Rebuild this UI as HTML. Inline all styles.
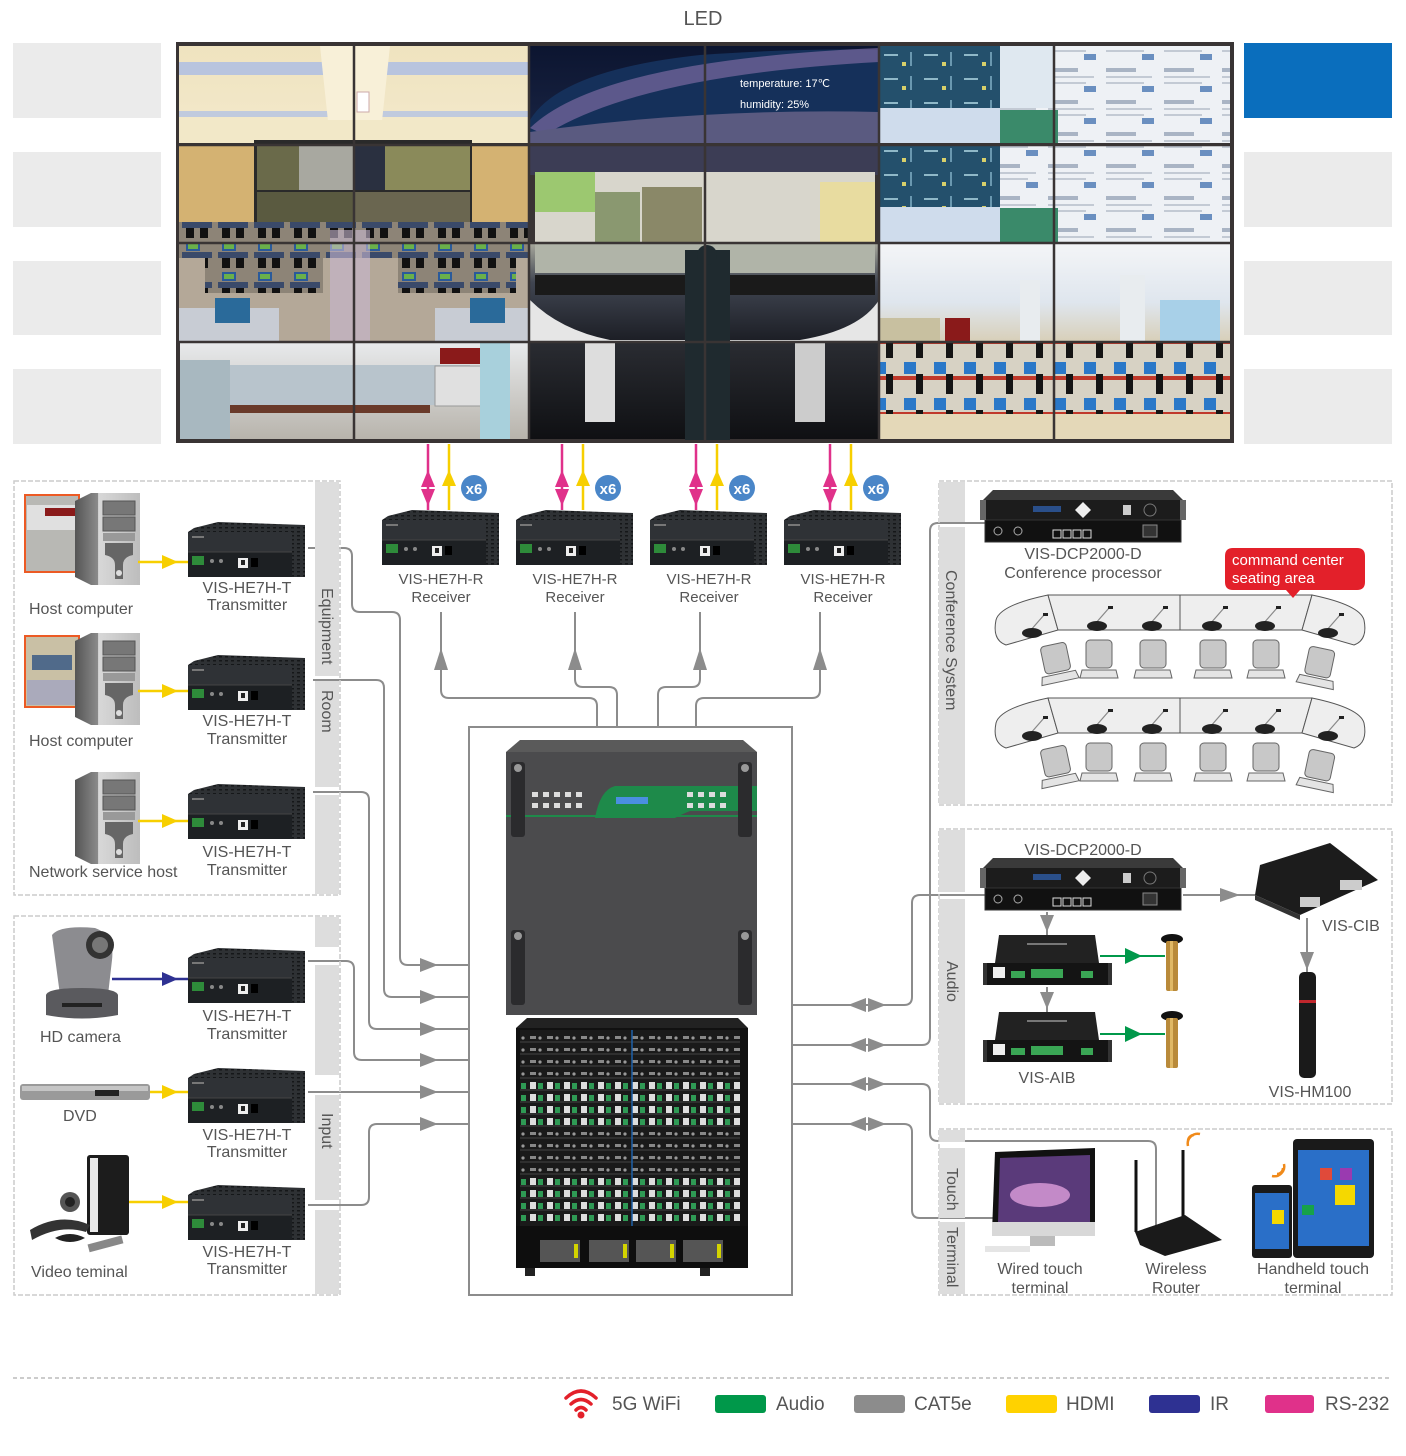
<!DOCTYPE html>
<html><head><meta charset="utf-8"><style>
html,body{margin:0;padding:0;background:#fff}
svg{display:block}
text{font-family:"Liberation Sans",Arial,sans-serif;fill:#555}
</style></head><body>
<svg width="1406" height="1456" viewBox="0 0 1406 1456" xmlns="http://www.w3.org/2000/svg">
<defs>
<linearGradient id="gL1" x1="0" y1="0" x2="0" y2="1"><stop offset="0" stop-color="#efe3bf"/><stop offset="1" stop-color="#f3e9cc"/></linearGradient>
<linearGradient id="gL3" x1="0" y1="0" x2="0" y2="1"><stop offset="0" stop-color="#e8eaec"/><stop offset="1" stop-color="#b8b4ac"/></linearGradient>
<linearGradient id="gM1" x1="0" y1="0" x2="0" y2="1"><stop offset="0" stop-color="#0c1530"/><stop offset="1" stop-color="#1a2545"/></linearGradient>
<linearGradient id="gM3" x1="0" y1="0" x2="0" y2="1"><stop offset="0" stop-color="#a7a89c"/><stop offset="0.4" stop-color="#404551"/><stop offset="1" stop-color="#1c1e25"/></linearGradient>
<linearGradient id="gM4" x1="0" y1="0" x2="0" y2="1"><stop offset="0" stop-color="#2a2c32"/><stop offset="1" stop-color="#0f1013"/></linearGradient>
<linearGradient id="gR3" x1="0" y1="0" x2="0" y2="1"><stop offset="0" stop-color="#f4f5f7"/><stop offset="0.6" stop-color="#dfe6ee"/><stop offset="1" stop-color="#d8cfb8"/></linearGradient>
<linearGradient id="tower" x1="0" y1="0" x2="1" y2="0"><stop offset="0" stop-color="#555"/><stop offset="0.35" stop-color="#8a8a8a"/><stop offset="0.36" stop-color="#d8d8d8"/><stop offset="1" stop-color="#bdbdbd"/></linearGradient>
<pattern id="vent" width="6" height="4" patternUnits="userSpaceOnUse"><rect width="6" height="4" fill="#2e3134"/><rect x="1" y="1" width="3" height="1.5" fill="#151719"/></pattern>
<pattern id="rj" x="528" y="0" width="17" height="12" patternUnits="userSpaceOnUse"><rect width="17" height="12" fill="#1a1a1a"/><rect x="2" y="2" width="6" height="7" fill="#ddd"/><rect x="10" y="3" width="5" height="6" fill="#2f9a55"/></pattern>
<pattern id="hd" x="528" y="0" width="17" height="12" patternUnits="userSpaceOnUse"><rect width="17" height="12" fill="#1a1a1a"/><rect x="2" y="4" width="6" height="3" fill="#888"/><circle cx="12" cy="6" r="1.6" fill="#999"/></pattern>
<pattern id="scr" width="58" height="32" patternUnits="userSpaceOnUse"><rect width="58" height="32" fill="#eef1f5"/><rect x="4" y="4" width="30" height="4" fill="#a9b4c4"/><rect x="4" y="12" width="46" height="2" fill="#c3cad4"/><rect x="4" y="18" width="38" height="2" fill="#c3cad4"/><rect x="40" y="22" width="12" height="6" fill="#6a8fc0"/></pattern>
<pattern id="teal" width="40" height="24" patternUnits="userSpaceOnUse"><rect width="40" height="24" fill="#24506c"/><rect x="4" y="6" width="14" height="2" fill="#8fb8c8"/><rect x="22" y="14" width="4" height="4" fill="#d8d06a"/><rect x="30" y="4" width="2" height="14" fill="#6a98b0"/></pattern>
<pattern id="desk" width="36" height="30" patternUnits="userSpaceOnUse"><rect width="36" height="30" fill="#8d8477"/><rect x="6" y="2" width="14" height="9" fill="#2a5a9a"/><rect x="8" y="4" width="10" height="5" fill="#6ab04a"/><rect x="2" y="12" width="30" height="6" fill="#3a4a6a"/><rect x="6" y="18" width="8" height="10" fill="#111"/><rect x="20" y="18" width="8" height="10" fill="#111"/></pattern>
<pattern id="deskR" width="30" height="36" patternUnits="userSpaceOnUse"><rect width="30" height="36" fill="#d7d2c4"/><rect x="4" y="2" width="12" height="12" fill="#2a78c8"/><rect x="0" y="16" width="30" height="4" fill="#c0392b"/><rect x="16" y="14" width="7" height="20" fill="#151515"/></pattern>
<g id="tx">
  <polygon points="6,6 30,0 117,3 117,30 0,30 0,10" fill="url(#vent)"/>
  <rect x="0" y="10" width="117" height="20" fill="#2f3236"/>
  <rect x="0" y="30" width="117" height="25" fill="#1d2023"/>
  <line x1="0" y1="30" x2="117" y2="30" stroke="#444" stroke-width="1"/>
  <rect x="104" y="6" width="13" height="49" fill="url(#vent)"/>
  <rect x="4" y="34" width="12" height="9" fill="#2e8b3a"/>
  <rect x="50" y="36" width="10" height="10" fill="#eee"/>
  <rect x="53" y="38" width="4" height="5" fill="#222"/>
  <rect x="63" y="36" width="7" height="9" fill="#000"/>
  <circle cx="24" cy="39" r="2" fill="#888"/><circle cx="33" cy="39" r="2" fill="#888"/>
  <rect x="4" y="14" width="12" height="2" fill="#777"/>
</g>
<g id="tower1">
  <polygon points="0,8 16,0 65,0 65,92 16,92 0,84" fill="url(#tower)"/>
  <rect x="28" y="8" width="32" height="14" fill="#777" stroke="#555"/>
  <rect x="28" y="24" width="32" height="14" fill="#777" stroke="#555"/>
  <rect x="28" y="40" width="32" height="8" fill="#999"/>
  <path d="M30 50 H58 V62 Q48 64 48 72 V86 H40 V72 Q40 64 30 62 Z" fill="#666"/>
  <circle cx="44" cy="80" r="3" fill="#ddd"/>
</g>
<g id="dcp">
  <polygon points="10,0 190,0 200,10 0,10" fill="#3a3a3a"/>
  <rect x="0" y="10" width="200" height="20" fill="#1c1c1c"/>
  <rect x="2" y="30" width="196" height="22" fill="#111" stroke="#333"/>
  <rect x="50" y="16" width="28" height="6" fill="#2a4f8a"/>
  <polygon points="100,12 108,20 100,28 92,20" fill="#eee"/>
  <circle cx="167" cy="20" r="6" fill="none" stroke="#777"/>
  <rect x="140" y="15" width="8" height="10" fill="#ccc"/>
  <rect x="70" y="40" width="8" height="8" fill="none" stroke="#ddd"/><rect x="80" y="40" width="8" height="8" fill="none" stroke="#ddd"/><rect x="90" y="40" width="8" height="8" fill="none" stroke="#ddd"/><rect x="100" y="40" width="8" height="8" fill="none" stroke="#ddd"/>
  <circle cx="15" cy="41" r="4" fill="none" stroke="#aaa"/><circle cx="35" cy="41" r="4" fill="none" stroke="#aaa"/>
  <rect x="160" y="35" width="14" height="12" fill="#333" stroke="#888"/>
  <rect x="-3" y="10" width="6" height="20" fill="#666"/><rect x="197" y="10" width="6" height="20" fill="#666"/>
</g>
<g id="aib">
  <polygon points="12,0 108,0 112,28 8,28" fill="#222"/>
  <rect x="0" y="28" width="121" height="22" fill="#141414"/>
  <polygon points="-4,28 0,28 0,50 -4,50" fill="#333"/><polygon points="121,28 125,28 125,50 121,50" fill="#333"/>
  <rect x="6" y="32" width="12" height="11" fill="#eee"/>
  <rect x="24" y="36" width="14" height="7" fill="#3aa655"/><rect x="44" y="34" width="32" height="9" fill="#3aa655"/><rect x="94" y="36" width="12" height="7" fill="#3aa655"/>
  <rect x="40" y="8" width="40" height="2" fill="#777"/>
</g>
<g id="mic">
  <ellipse cx="8" cy="4" rx="11" ry="5" fill="#111"/>
  <rect x="2" y="6" width="12" height="50" rx="2" fill="#b98a3a"/>
  <rect x="6" y="6" width="3" height="50" fill="#e0b865"/>
</g>
<g id="chair">
  <rect x="4" y="0" width="26" height="28" rx="4" fill="#c8c8c8" stroke="#666"/>
  <path d="M0 30 H34 L36 38 H-2 Z" fill="#e4e4e4" stroke="#666"/>
</g>
<g id="seat">
  <line x1="8" y1="24" x2="22" y2="8" stroke="#888" stroke-width="1.2"/>
  <rect x="21" y="6" width="5" height="3" fill="#222"/>
  <ellipse cx="10" cy="26" rx="10" ry="5" fill="#222"/>
</g>
</defs>

<text x="703" y="25" font-size="20" text-anchor="middle" fill="#666">LED</text>

<g fill="#ebebeb">
<rect x="13" y="43" width="148" height="75"/><rect x="13" y="152" width="148" height="75"/><rect x="13" y="261" width="148" height="74"/><rect x="13" y="369" width="148" height="75"/>
<rect x="1244" y="152" width="148" height="75"/><rect x="1244" y="261" width="148" height="74"/><rect x="1244" y="369" width="148" height="75"/>
</g>
<rect x="1244" y="43" width="148" height="75" fill="#0a6ebd"/>

<!-- video wall -->
<rect x="176" y="42" width="1058" height="401" fill="#393434"/>
<!-- left panel -->
<rect x="179" y="46" width="350" height="97" fill="url(#gL1)"/>
<rect x="179" y="62" width="350" height="13" fill="#b8c4de"/>
<rect x="179" y="111" width="350" height="6" fill="#c0cade"/>
<polygon points="320,46 390,46 380,140 330,140" fill="#f8f0d8"/>
<rect x="357" y="92" width="12" height="20" fill="#fff" stroke="#caa"/>
<rect x="179" y="120" width="350" height="23" fill="#f2e8c8"/>
<rect x="179" y="145" width="350" height="96" fill="#d4b272"/>
<rect x="254" y="140" width="218" height="84" fill="#2a2a2a"/>
<rect x="257" y="145" width="42" height="45" fill="#6a6a4a"/><rect x="299" y="145" width="54" height="45" fill="#a8a8a0"/><rect x="355" y="145" width="30" height="45" fill="#2a3040"/><rect x="385" y="145" width="85" height="45" fill="#8a8a5a"/>
<rect x="257" y="192" width="96" height="30" fill="#5a5a40"/><rect x="355" y="192" width="115" height="30" fill="#6a6650"/>
<rect x="179" y="224" width="350" height="117" fill="#b4a898"/>
<rect x="179" y="222" width="350" height="36" fill="url(#desk)"/>
<rect x="205" y="243" width="118" height="50" fill="url(#desk)"/>
<rect x="398" y="243" width="118" height="50" fill="url(#desk)"/>
<rect x="330" y="230" width="40" height="111" fill="#c8b8d0" opacity="0.6"/>
<rect x="179" y="308" width="100" height="33" fill="#c8ccd4"/><rect x="435" y="308" width="94" height="33" fill="#c8ccd4"/>
<rect x="215" y="298" width="35" height="25" fill="#2a6a9a"/><rect x="470" y="298" width="35" height="25" fill="#2a6a9a"/>
<rect x="180" y="342" width="349" height="97" fill="url(#gL3)"/>
<rect x="230" y="365" width="240" height="40" fill="#b8c4cc"/>
<rect x="180" y="360" width="50" height="79" fill="#a8b8c0"/>
<rect x="440" y="348" width="55" height="16" fill="#8a1a1a"/>
<rect x="435" y="366" width="60" height="40" fill="#e0e0e0" stroke="#999"/>
<rect x="480" y="342" width="30" height="97" fill="#a8d0dc"/>
<rect x="230" y="405" width="200" height="8" fill="#6a3a2a"/>
<!-- middle panel -->
<rect x="530" y="46" width="349" height="97" fill="url(#gM1)"/>
<path d="M530 120 Q560 70 700 55 Q800 48 879 50 V143 H530 Z" fill="#15305a"/>
<path d="M530 128 Q600 60 879 48 V62 Q640 75 545 135 Z" fill="#7a6aa0" opacity="0.7"/>
<path d="M530 132 Q700 108 879 112 V143 H530 Z" fill="#5a5a80"/>
<rect x="530" y="145" width="349" height="30" fill="#3c3d55"/>
<rect x="535" y="172" width="340" height="70" fill="#d8d6cc"/>
<rect x="535" y="172" width="60" height="40" fill="#9cc870"/>
<rect x="595" y="192" width="45" height="50" fill="#8a9870"/>
<rect x="642" y="187" width="60" height="55" fill="#8a8868"/>
<rect x="820" y="182" width="55" height="60" fill="#e8dca0"/>
<rect x="530" y="243" width="349" height="98" fill="url(#gM3)"/>
<rect x="535" y="243" width="340" height="30" fill="#b0b4a8"/>
<rect x="535" y="275" width="340" height="20" fill="#1a1a1a"/>
<path d="M530 300 Q560 330 610 340 H800 Q860 330 879 300 V341 H530Z" fill="#e6e6e6"/>
<rect x="530" y="342" width="349" height="97" fill="url(#gM4)"/>
<rect x="585" y="342" width="30" height="80" fill="#ddd"/><rect x="795" y="342" width="30" height="80" fill="#ccc"/>
<rect x="685" y="250" width="45" height="190" fill="#1f2a2f"/>
<circle cx="707" cy="255" r="10" fill="#1f2a2f"/>
<!-- right panel -->
<rect x="880" y="46" width="350" height="97" fill="url(#scr)"/>
<rect x="880" y="46" width="120" height="62" fill="url(#teal)"/>
<rect x="880" y="108" width="120" height="35" fill="#cfdcec"/>
<rect x="1000" y="46" width="54" height="62" fill="#dfe8f0"/>
<rect x="1000" y="110" width="58" height="33" fill="#3a8a6a"/>
<rect x="880" y="145" width="350" height="98" fill="url(#scr)"/>
<rect x="880" y="145" width="120" height="62" fill="url(#teal)"/>
<rect x="880" y="207" width="120" height="36" fill="#cfdcec"/>
<rect x="1000" y="208" width="58" height="35" fill="#3a8a6a"/>
<rect x="880" y="243" width="350" height="99" fill="url(#gR3)"/>
<rect x="1020" y="280" width="20" height="62" fill="#e8ecef"/><rect x="1120" y="275" width="25" height="67" fill="#e8ecef"/><rect x="1160" y="300" width="60" height="42" fill="#a8d0e8"/>
<rect x="880" y="318" width="60" height="24" fill="#c8c0a0"/><rect x="945" y="318" width="25" height="24" fill="#8a1a1a"/>
<rect x="880" y="342" width="350" height="97" fill="#dcd4c2"/>
<rect x="880" y="342" width="350" height="72" fill="url(#deskR)"/>
<rect x="880" y="414" width="350" height="25" fill="#e4d8b8"/>
<text x="740" y="87" font-size="11" style="fill:#fff">temperature: 17℃</text>
<text x="740" y="108" font-size="11" style="fill:#fff">humidity: 25%</text>
<g stroke="#393434" stroke-width="2.5">
<line x1="529" y1="44" x2="529" y2="441"/><line x1="879" y1="44" x2="879" y2="441"/>
<line x1="354" y1="44" x2="354" y2="441"/><line x1="705" y1="44" x2="705" y2="441"/><line x1="1054" y1="44" x2="1054" y2="441"/>
<line x1="178" y1="145" x2="1232" y2="145"/><line x1="178" y1="243" x2="1232" y2="243"/><line x1="178" y1="342" x2="1232" y2="342"/>
</g>

<!-- receivers -->
<g transform="translate(382,510)"><use href="#tx"/></g>
<g transform="translate(516,510)"><use href="#tx"/></g>
<g transform="translate(650,510)"><use href="#tx"/></g>
<g transform="translate(784,510)"><use href="#tx"/></g>
<g font-size="15" text-anchor="middle">
<text x="441" y="584">VIS-HE7H-R</text><text x="441" y="602">Receiver</text>
<text x="575" y="584">VIS-HE7H-R</text><text x="575" y="602">Receiver</text>
<text x="709" y="584">VIS-HE7H-R</text><text x="709" y="602">Receiver</text>
<text x="843" y="584">VIS-HE7H-R</text><text x="843" y="602">Receiver</text>
</g>
<g id="pa">
<line x1="428" y1="444" x2="428" y2="510" stroke="#e0318a" stroke-width="2.5"/>
<polygon points="421,487 435,487 428,470" fill="#e0318a"/><polygon points="421,489 435,489 428,506" fill="#e0318a"/>
<line x1="449" y1="444" x2="449" y2="510" stroke="#f7cf00" stroke-width="2.5"/>
<polygon points="442,486 456,486 449,470" fill="#f7cf00"/>
<circle cx="474" cy="488" r="13" fill="#4a86c8"/>
<text x="474" y="494" font-size="15" font-weight="bold" text-anchor="middle" style="fill:#fff">x6</text>
</g>
<use href="#pa" transform="translate(134,0)"/><use href="#pa" transform="translate(268,0)"/><use href="#pa" transform="translate(402,0)"/>

<g fill="none" stroke="#8c8c8c" stroke-width="2">
<path d="M441 612 V690 Q441 698 449 698 H589 Q597 698 597 706 V727"/>
<path d="M575 612 V679 Q575 687 583 687 H609 Q617 687 617 695 V727"/>
<path d="M700 612 V679 Q700 687 692 687 H666 Q658 687 658 695 V727"/>
<path d="M820 612 V690 Q820 698 812 698 H704 Q696 698 696 706 V727"/>
<path d="M308 548 H344 Q352 548 352 556 V604 Q352 612 360 612 H392 Q400 612 400 620 V957 Q400 965 408 965 H469"/>
<path d="M313 680 H376 Q384 680 384 688 V989 Q384 997 392 997 H469"/>
<path d="M313 792 H361 Q369 792 369 800 V1021 Q369 1029 377 1029 H469"/>
<path d="M308 961 H346 Q354 961 354 969 V1052 Q354 1060 362 1060 H469"/>
<path d="M308 1092 H469"/>
<path d="M308 1205 H361 Q369 1205 369 1197 V1132 Q369 1124 377 1124 H469"/>
<path d="M792 1005 H904 Q912 1005 912 997 V903 Q912 895 920 895 H985"/>
<path d="M792 1045 H922 Q930 1045 930 1037 V531 Q930 523 938 523 H985"/>
<path d="M792 1084 H922 Q930 1084 930 1092 V1133 Q930 1141 938 1141 H1148 Q1156 1141 1156 1149 V1240"/>
<path d="M792 1124 H904 Q912 1124 912 1132 V1210 Q912 1218 920 1218 H995"/>
<path d="M1183 895 H1255"/>
<path d="M1047 912 V935"/><path d="M1047 987 V1012"/>
<path d="M1307 918 V972"/>
</g>
<g fill="#8c8c8c">
<polygon points="434,670 448,670 441,648"/><polygon points="568,670 582,670 575,648"/><polygon points="693,670 707,670 700,648"/><polygon points="813,670 827,670 820,648"/>
<polygon points="420,958 420,972 438,965"/><polygon points="420,990 420,1004 438,997"/><polygon points="420,1022 420,1036 438,1029"/><polygon points="420,1053 420,1067 438,1060"/><polygon points="420,1085 420,1099 438,1092"/><polygon points="420,1117 420,1131 438,1124"/>
<g id="da"><polygon points="866,998 866,1012 848,1005"/><polygon points="868,998 868,1012 886,1005"/></g>
<use href="#da" transform="translate(0,40)"/><use href="#da" transform="translate(0,79)"/><use href="#da" transform="translate(0,119)"/>
<polygon points="1220,888 1220,902 1240,895"/>
<polygon points="1040,915 1054,915 1047,932"/><polygon points="1040,992 1054,992 1047,1009"/>
<polygon points="1300,952 1314,952 1307,970"/>
</g>

<!-- left box 1 -->
<rect x="14" y="481" width="326" height="414" fill="none" stroke="#ccc" stroke-width="1.5" stroke-dasharray="5,2"/>
<rect x="315" y="482" width="24" height="194" fill="#ddd"/><rect x="315" y="681" width="24" height="106" fill="#ddd"/><rect x="315" y="795" width="24" height="99" fill="#ddd"/>
<text transform="translate(322,588) rotate(90)" font-size="16">Equipment</text>
<text transform="translate(322,690) rotate(90)" font-size="16">Room</text>
<rect x="25" y="495" width="54" height="77" fill="#b8b8b4" stroke="#ec5a24" stroke-width="2"/>
<rect x="27" y="505" width="50" height="25" fill="#e0e0e0"/><rect x="45" y="508" width="30" height="8" fill="#8a1a1a"/>
<rect x="25" y="636" width="54" height="71" fill="#c9c0a5" stroke="#ec5a24" stroke-width="2"/>
<rect x="32" y="655" width="40" height="15" fill="#506a8a"/><rect x="27" y="680" width="50" height="25" fill="#aab"/>
<g transform="translate(75,493)"><use href="#tower1"/></g>
<g transform="translate(75,633)"><use href="#tower1"/></g>
<g transform="translate(75,772)"><use href="#tower1"/></g>
<text x="29" y="614" font-size="16">Host computer</text>
<text x="29" y="746" font-size="16">Host computer</text>
<text x="29" y="877" font-size="16">Network service host</text>
<g transform="translate(188,522)"><use href="#tx"/></g>
<g transform="translate(188,655)"><use href="#tx"/></g>
<g transform="translate(188,784)"><use href="#tx"/></g>
<g font-size="16" text-anchor="middle">
<text x="247" y="593">VIS-HE7H-T</text><text x="247" y="610">Transmitter</text>
<text x="247" y="726">VIS-HE7H-T</text><text x="247" y="744">Transmitter</text>
<text x="247" y="857">VIS-HE7H-T</text><text x="247" y="875">Transmitter</text>
</g>
<g stroke="#f7cf00" stroke-width="2.5"><line x1="138" y1="562" x2="188" y2="562"/><line x1="138" y1="691" x2="188" y2="691"/><line x1="138" y1="821" x2="188" y2="821"/><line x1="128" y1="1092" x2="188" y2="1092"/><line x1="128" y1="1202" x2="188" y2="1202"/></g>
<g fill="#f7cf00"><polygon points="162,555 162,569 178,562"/><polygon points="162,684 162,698 178,691"/><polygon points="162,814 162,828 178,821"/><polygon points="162,1085 162,1099 178,1092"/><polygon points="162,1195 162,1209 178,1202"/></g>

<!-- left box 2 -->
<rect x="14" y="916" width="326" height="379" fill="none" stroke="#ccc" stroke-width="1.5" stroke-dasharray="5,2"/>
<rect x="315" y="917" width="24" height="30" fill="#ddd"/><rect x="315" y="965" width="24" height="110" fill="#ddd"/><rect x="315" y="1095" width="24" height="105" fill="#ddd"/><rect x="315" y="1210" width="24" height="84" fill="#ddd"/>
<text transform="translate(322,1113) rotate(90)" font-size="16">Input</text>
<path d="M52 935 Q60 925 95 928 Q115 935 112 960 L108 995 H60 Z" fill="#8c8c90"/>
<circle cx="100" cy="945" r="14" fill="#333"/><circle cx="100" cy="945" r="8" fill="#777"/>
<path d="M46 995 Q48 988 82 988 Q116 988 118 995 V1015 Q82 1022 46 1015 Z" fill="#5a5a5e"/>
<rect x="62" y="1003" width="40" height="4" fill="#222"/>
<line x1="112" y1="979" x2="188" y2="979" stroke="#2e3192" stroke-width="2.5"/>
<polygon points="162,972 162,986 178,979" fill="#2e3192"/>
<text x="40" y="1042" font-size="16">HD camera</text>
<rect x="20" y="1084" width="130" height="16" rx="3" fill="#9a9a9a"/><rect x="22" y="1086" width="126" height="5" fill="#c5c5c5"/>
<rect x="95" y="1090" width="24" height="6" fill="#222"/>
<text x="63" y="1121" font-size="16">DVD</text>
<rect x="87" y="1155" width="42" height="80" rx="3" fill="#1c1c1c"/><rect x="90" y="1158" width="8" height="74" fill="#e8e8e8"/>
<circle cx="70" cy="1202" r="10" fill="#555"/><circle cx="70" cy="1202" r="5" fill="#222"/>
<path d="M30 1230 Q60 1212 90 1225 L86 1232 Q60 1224 32 1240 Z" fill="#333"/>
<path d="M55 1238 Q70 1230 85 1238 Q70 1246 55 1238 Z" fill="#222"/>
<rect x="88" y="1240" width="35" height="8" transform="rotate(-15 105 1244)" fill="#888"/>
<text x="31" y="1277" font-size="16">Video teminal</text>
<g transform="translate(188,948)"><use href="#tx"/></g>
<g transform="translate(188,1068)"><use href="#tx"/></g>
<g transform="translate(188,1185)"><use href="#tx"/></g>
<g font-size="16" text-anchor="middle">
<text x="247" y="1021">VIS-HE7H-T</text><text x="247" y="1039">Transmitter</text>
<text x="247" y="1140">VIS-HE7H-T</text><text x="247" y="1157">Transmitter</text>
<text x="247" y="1257">VIS-HE7H-T</text><text x="247" y="1274">Transmitter</text>
</g>

<!-- matrix -->
<rect x="469" y="727" width="323" height="568" fill="#fff" stroke="#8c8c8c" stroke-width="2"/>
<polygon points="520,740 743,740 757,752 506,752" fill="#5a5a5a"/>
<rect x="506" y="752" width="251" height="263" fill="#4b4b4d"/>
<path d="M530 818 H595 Q600 790 615 786 H757 V811 H690 Q680 815 675 818 Z" fill="#1e8a4a"/>
<rect x="506" y="815" width="251" height="2" fill="#1e8a4a"/>
<rect x="616" y="797" width="32" height="7" fill="#4a8fe0"/>
<g fill="#ddd"><rect x="532" y="792" width="6" height="5"/><rect x="543" y="792" width="6" height="5"/><rect x="554" y="792" width="6" height="5"/><rect x="565" y="792" width="6" height="5"/><rect x="576" y="792" width="6" height="5"/><rect x="532" y="803" width="6" height="5"/><rect x="543" y="803" width="6" height="5"/><rect x="554" y="803" width="6" height="5"/><rect x="565" y="803" width="6" height="5"/><rect x="576" y="803" width="6" height="5"/><rect x="687" y="792" width="6" height="5"/><rect x="698" y="792" width="6" height="5"/><rect x="709" y="792" width="6" height="5"/><rect x="720" y="792" width="6" height="5"/><rect x="687" y="803" width="6" height="5"/><rect x="698" y="803" width="6" height="5"/><rect x="709" y="803" width="6" height="5"/><rect x="720" y="803" width="6" height="5"/></g>
<g fill="#2b2b2d"><rect x="511" y="762" width="14" height="75" rx="3"/><rect x="738" y="762" width="14" height="75" rx="3"/><rect x="511" y="930" width="14" height="75" rx="3"/><rect x="738" y="930" width="14" height="75" rx="3"/></g>
<g fill="#999"><circle cx="518" cy="768" r="4"/><circle cx="745" cy="768" r="4"/><circle cx="518" cy="936" r="4"/><circle cx="745" cy="936" r="4"/></g>
<polygon points="516,1028 527,1018 738,1018 748,1028" fill="#222"/>
<rect x="516" y="1028" width="232" height="200" fill="#111"/>
<rect x="520" y="1030" width="220" height="16" fill="url(#hd)"/>
<rect x="520" y="1046" width="220" height="32" fill="url(#hd)"/>
<rect x="520" y="1078" width="220" height="48" fill="url(#rj)"/>
<rect x="520" y="1126" width="220" height="48" fill="url(#hd)"/>
<rect x="520" y="1174" width="220" height="52" fill="url(#rj)"/>
<g stroke="#444" stroke-width="1"><line x1="520" y1="1042" x2="740" y2="1042"/><line x1="520" y1="1054" x2="740" y2="1054"/><line x1="520" y1="1066" x2="740" y2="1066"/><line x1="520" y1="1078" x2="740" y2="1078"/><line x1="520" y1="1090" x2="740" y2="1090"/><line x1="520" y1="1102" x2="740" y2="1102"/><line x1="520" y1="1114" x2="740" y2="1114"/><line x1="520" y1="1126" x2="740" y2="1126"/><line x1="520" y1="1138" x2="740" y2="1138"/><line x1="520" y1="1150" x2="740" y2="1150"/><line x1="520" y1="1162" x2="740" y2="1162"/><line x1="520" y1="1174" x2="740" y2="1174"/><line x1="520" y1="1186" x2="740" y2="1186"/><line x1="520" y1="1198" x2="740" y2="1198"/><line x1="520" y1="1210" x2="740" y2="1210"/></g>
<line x1="632" y1="1030" x2="632" y2="1226" stroke="#1d5fa8" stroke-width="1.5"/>
<rect x="516" y="1226" width="232" height="42" fill="#0e0e0e"/>
<g fill="#555"><rect x="540" y="1240" width="40" height="22"/><rect x="589" y="1240" width="40" height="22"/><rect x="636" y="1240" width="40" height="22"/><rect x="683" y="1240" width="40" height="22"/></g>
<g fill="#d4d400"><rect x="574" y="1244" width="4" height="14"/><rect x="623" y="1244" width="4" height="14"/><rect x="670" y="1244" width="4" height="14"/><rect x="717" y="1244" width="4" height="14"/></g>
<rect x="525" y="1268" width="10" height="8" fill="#222"/><rect x="700" y="1268" width="10" height="8" fill="#222"/>

<!-- conference -->
<rect x="939" y="481" width="453" height="324" fill="none" stroke="#ccc" stroke-width="1.5" stroke-dasharray="5,2"/>
<rect x="939" y="482" width="26" height="40" fill="#ddd"/><rect x="939" y="527" width="26" height="277" fill="#ddd"/>
<text transform="translate(946,570) rotate(90)" font-size="16">Conference System</text>
<g transform="translate(983,490)"><use href="#dcp"/></g>
<text x="1083" y="559" font-size="16" text-anchor="middle">VIS-DCP2000-D</text>
<text x="1083" y="578" font-size="16" text-anchor="middle">Conference processor</text>
<g id="table">
<path d="M1048 595 L1058 630 L1006 645 Q992 640 996 620 Q1000 605 1048 595 Z" fill="#eee" stroke="#555"/>
<path d="M1048 595 H1180 V630 H1058 Z" fill="#eee" stroke="#555"/>
<path d="M1180 595 H1312 L1302 630 H1180 Z" fill="#eee" stroke="#555"/>
<path d="M1312 595 Q1360 605 1364 620 Q1368 640 1354 645 L1302 630 Z" fill="#eee" stroke="#555"/>
<g transform="translate(1022,607)"><use href="#seat"/></g><g transform="translate(1087,600)"><use href="#seat"/></g><g transform="translate(1142,600)"><use href="#seat"/></g><g transform="translate(1202,600)"><use href="#seat"/></g><g transform="translate(1255,600)"><use href="#seat"/></g><g transform="translate(1318,607)"><use href="#seat"/></g>
<g transform="translate(1036,648) rotate(-12)"><use href="#chair"/></g><g transform="translate(1082,640)"><use href="#chair"/></g><g transform="translate(1136,640)"><use href="#chair"/></g><g transform="translate(1196,640)"><use href="#chair"/></g><g transform="translate(1249,640)"><use href="#chair"/></g><g transform="translate(1306,645) rotate(12)"><use href="#chair"/></g>
</g>
<use href="#table" transform="translate(0,103)"/>
<path d="M1233 548 H1357 Q1365 548 1365 556 V582 Q1365 590 1357 590 H1300 L1293 598 L1286 590 H1233 Q1225 590 1225 582 V556 Q1225 548 1233 548 Z" fill="#e3202a"/>
<text x="1232" y="565" font-size="15" style="fill:#fff">command center</text>
<text x="1232" y="583" font-size="15" style="fill:#fff">seating area</text>

<!-- audio -->
<rect x="939" y="829" width="453" height="275" fill="none" stroke="#ccc" stroke-width="1.5" stroke-dasharray="5,2"/>
<rect x="939" y="830" width="26" height="62" fill="#ddd"/><rect x="939" y="899" width="26" height="204" fill="#ddd"/>
<text transform="translate(947,961) rotate(90)" font-size="16">Audio</text>
<text x="1083" y="855" font-size="16" text-anchor="middle">VIS-DCP2000-D</text>
<g transform="translate(983,858)"><use href="#dcp"/></g>
<g transform="translate(987,935)"><use href="#aib"/></g>
<g transform="translate(987,1012)"><use href="#aib"/></g>
<g transform="translate(1164,935)"><use href="#mic"/></g>
<g transform="translate(1164,1012)"><use href="#mic"/></g>
<g stroke="#00984a" stroke-width="2"><line x1="1100" y1="956" x2="1165" y2="956"/><line x1="1100" y1="1034" x2="1165" y2="1034"/></g>
<g fill="#00984a"><polygon points="1125,948 1125,964 1142,956"/><polygon points="1125,1026 1125,1042 1142,1034"/></g>
<text x="1047" y="1083" font-size="16" text-anchor="middle">VIS-AIB</text>
<polygon points="1260,865 1330,843 1378,880 1300,915 1255,895" fill="#1c1c1c"/>
<polygon points="1255,895 1300,915 1300,920 1255,900" fill="#333"/>
<rect x="1300" y="897" width="20" height="10" fill="#ccc"/><rect x="1340" y="880" width="22" height="10" fill="#ccc"/>
<text x="1322" y="931" font-size="16">VIS-CIB</text>
<rect x="1299" y="972" width="17" height="106" rx="5" fill="#1a1a1a"/>
<rect x="1299" y="1000" width="17" height="3" fill="#c0272d"/>
<text x="1310" y="1097" font-size="16" text-anchor="middle">VIS-HM100</text>

<!-- touch -->
<rect x="939" y="1129" width="453" height="166" fill="none" stroke="#ccc" stroke-width="1.5" stroke-dasharray="5,2"/>
<rect x="939" y="1130" width="26" height="12" fill="#ddd"/><rect x="939" y="1148" width="26" height="70" fill="#ddd"/><rect x="939" y="1222" width="26" height="72" fill="#ddd"/>
<text transform="translate(947,1168) rotate(90)" font-size="16">Touch</text>
<text transform="translate(947,1227) rotate(90)" font-size="16">Terminal</text>
<polygon points="995,1152 1095,1148 1095,1232 992,1232" fill="#111"/>
<polygon points="1000,1158 1090,1155 1090,1222 998,1222" fill="#5a3a7a"/>
<ellipse cx="1040" cy="1195" rx="30" ry="12" fill="#c38ac8"/>
<rect x="992" y="1222" width="103" height="14" fill="#d8d8d8"/>
<rect x="1030" y="1236" width="25" height="10" fill="#bbb"/>
<rect x="985" y="1246" width="45" height="6" fill="#e5e5e5"/>
<text x="1040" y="1274" font-size="16" text-anchor="middle">Wired touch</text>
<text x="1040" y="1293" font-size="16" text-anchor="middle">terminal</text>
<line x1="1136" y1="1160" x2="1136" y2="1232" stroke="#111" stroke-width="3"/>
<line x1="1183" y1="1150" x2="1183" y2="1222" stroke="#111" stroke-width="3"/>
<polygon points="1135,1232 1185,1215 1222,1240 1165,1256 1140,1245" fill="#1a1a1a"/>
<path d="M1188 1146 a10 10 0 0 1 12 -12 M1188 1141 a6 6 0 0 1 6 -6" stroke="#f08a1a" stroke-width="2.5" fill="none"/>
<text x="1176" y="1274" font-size="16" text-anchor="middle">Wireless</text>
<text x="1176" y="1293" font-size="16" text-anchor="middle">Router</text>
<rect x="1293" y="1139" width="81" height="119" rx="4" fill="#1a1a1a"/>
<rect x="1298" y="1150" width="71" height="96" fill="#2a6fc8"/>
<g><rect x="1335" y="1185" width="20" height="20" fill="#f5d800"/><rect x="1302" y="1205" width="12" height="10" fill="#17a24a"/><rect x="1320" y="1168" width="12" height="12" fill="#e04a3a"/><rect x="1340" y="1168" width="12" height="12" fill="#9a3ab0"/></g>
<rect x="1252" y="1185" width="40" height="73" rx="3" fill="#1a1a1a"/>
<rect x="1255" y="1193" width="34" height="56" fill="#2a6fc8"/>
<rect x="1272" y="1210" width="12" height="14" fill="#f5d800"/>
<path d="M1272 1176 a10 10 0 0 0 12 -12 M1277 1174 a6 6 0 0 0 6 -6" stroke="#f08a1a" stroke-width="2.5" fill="none"/>
<text x="1313" y="1274" font-size="16" text-anchor="middle">Handheld touch</text>
<text x="1313" y="1293" font-size="16" text-anchor="middle">terminal</text>

<!-- legend -->
<line x1="13" y1="1378" x2="1392" y2="1378" stroke="#ccc" stroke-width="2" stroke-dasharray="4,3"/>
<g stroke="#e3202a" stroke-width="3.5" fill="none" stroke-linecap="round">
<path d="M566 1398 Q581 1384 596 1398"/><path d="M571 1404 Q581 1395 591 1404"/><path d="M576 1410 Q581 1405 586 1410"/>
</g>
<circle cx="581" cy="1415" r="3.5" fill="#e3202a"/>
<g font-size="19">
<text x="612" y="1410">5G WiFi</text>
<rect x="715" y="1395" width="51" height="18" rx="3" fill="#00984a"/><text x="776" y="1410">Audio</text>
<rect x="854" y="1395" width="51" height="18" rx="3" fill="#8c8c8c"/><text x="914" y="1410">CAT5e</text>
<rect x="1006" y="1395" width="51" height="18" rx="3" fill="#ffd200"/><text x="1066" y="1410">HDMI</text>
<rect x="1149" y="1395" width="51" height="18" rx="3" fill="#2e3192"/><text x="1210" y="1410">IR</text>
<rect x="1265" y="1395" width="49" height="18" rx="3" fill="#e0318a"/><text x="1325" y="1410">RS-232</text>
</g>
</svg>
</body></html>
